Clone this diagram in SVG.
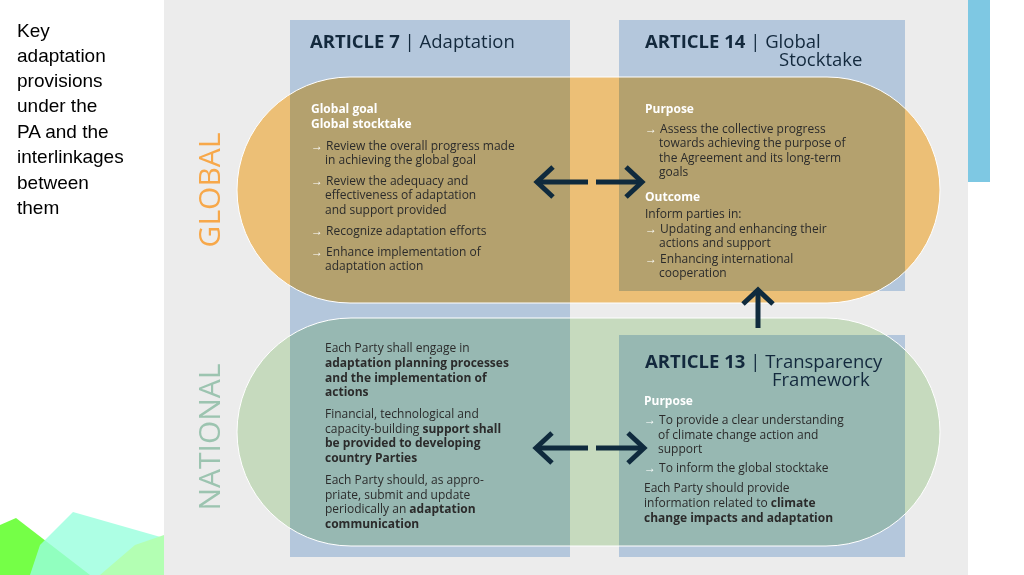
<svg xmlns="http://www.w3.org/2000/svg" width="1024" height="575" viewBox="0 0 1024 575">
<style>
.t{font-family:"Open Sans","Liberation Sans",sans-serif;font-size:12px;fill:#2b2b2b}
.b{font-weight:bold}
.w{fill:#ffffff;font-weight:bold}
.h{font-family:"Open Sans","Liberation Sans",sans-serif;font-size:18.5px;fill:#13293d}
.side{font-family:"Liberation Sans",sans-serif;font-size:19px;fill:#000}
</style>
<rect width="1024" height="575" fill="#ffffff"/>
<rect x="164" y="0" width="804" height="575" fill="#ececec"/>
<rect x="968" y="0" width="22" height="182" fill="#7ec8e3"/>
<g id="decor">
<polygon points="0,525 16,518 90,575 0,575" fill="#66ff33" opacity="0.9"/>
<polygon points="40,545 73,512 164,538 164,575 30,575" fill="#99ffdd" opacity="0.8"/>
<polygon points="100,575 135,545 164,535 164,575" fill="#b3ffb3"/>
</g>
<text class="side" x="17" y="37">Key</text>
<text class="side" x="17" y="62">adaptation</text>
<text class="side" x="17" y="87">provisions</text>
<text class="side" x="17" y="112">under the</text>
<text class="side" x="17" y="138">PA and the</text>
<text class="side" x="17" y="163">interlinkages</text>
<text class="side" x="17" y="189">between</text>
<text class="side" x="17" y="214">them</text>

<g id="columns">
<rect id="art7" x="290" y="20" width="280" height="537" fill="#b4c7dc"/>
<rect id="art14" x="619" y="20" width="286" height="271" fill="#b4c7dc"/>
<rect id="art13" x="619" y="335" width="286" height="222" fill="#b4c7dc"/>
</g>
<g id="pills">
<rect id="global" x="237" y="77" width="703" height="226" rx="113" fill="#ffcf80" style="mix-blend-mode:multiply"/>
<rect id="national" x="237" y="318" width="703" height="228" rx="114" fill="#d6ecce" style="mix-blend-mode:multiply"/>
<rect x="237" y="77" width="703" height="226" rx="113" fill="none" stroke="#ffffff" stroke-width="1"/>
<rect x="237" y="318" width="703" height="228" rx="114" fill="none" stroke="#ffffff" stroke-width="1"/>
</g>
<text x="220" y="190" transform="rotate(-90 220 190)" text-anchor="middle" font-family="'Open Sans','Liberation Sans',sans-serif" font-size="30" fill="#f7a84a">GLOBAL</text>
<text x="220" y="437" transform="rotate(-90 220 437)" text-anchor="middle" font-family="'Open Sans','Liberation Sans',sans-serif" font-size="30" fill="#9cc4b0">NATIONAL</text>

<g id="article7-text">
<text class="h" x="310" y="48"><tspan font-weight="bold">ARTICLE 7</tspan> | Adaptation</text>
<text class="t w" x="311" y="113">Global goal</text>
<text class="t w" x="311" y="128">Global stocktake</text>
<text class="t" x="311" y="150"><tspan fill="#fff">→</tspan> Review the overall progress made</text>
<text class="t" x="325" y="164">in achieving the global goal</text>
<text class="t" x="311" y="185"><tspan fill="#fff">→</tspan> Review the adequacy and</text>
<text class="t" x="325" y="199">effectiveness of adaptation</text>
<text class="t" x="325" y="214">and support provided</text>
<text class="t" x="311" y="235"><tspan fill="#fff">→</tspan> Recognize adaptation efforts</text>
<text class="t" x="311" y="256"><tspan fill="#fff">→</tspan> Enhance implementation of</text>
<text class="t" x="325" y="270">adaptation action</text>
</g>
<g id="article14-text">
<text class="h" x="645" y="48"><tspan font-weight="bold">ARTICLE 14</tspan> | Global</text>
<text class="h" x="779" y="66">Stocktake</text>
<text class="t w" x="645" y="113">Purpose</text>
<text class="t" x="645" y="133"><tspan fill="#fff">→</tspan> Assess the collective progress</text>
<text class="t" x="659" y="147">towards achieving the purpose of</text>
<text class="t" x="659" y="162">the Agreement and its long-term</text>
<text class="t" x="659" y="176">goals</text>
<text class="t w" x="645" y="201">Outcome</text>
<text class="t" x="645" y="218">Inform parties in:</text>
<text class="t" x="645" y="233"><tspan fill="#fff">→</tspan> Updating and enhancing their</text>
<text class="t" x="659" y="247">actions and support</text>
<text class="t" x="645" y="263"><tspan fill="#fff">→</tspan> Enhancing international</text>
<text class="t" x="659" y="277">cooperation</text>
</g>
<g id="national-text">
<text class="t" x="325" y="352">Each Party shall engage in</text>
<text class="t b" x="325" y="367">adaptation planning processes</text>
<text class="t b" x="325" y="382">and the implementation of</text>
<text class="t b" x="325" y="396">actions</text>
<text class="t" x="325" y="418">Financial, technological and</text>
<text class="t" x="325" y="433">capacity-building <tspan font-weight="bold">support shall</tspan></text>
<text class="t b" x="325" y="447">be provided to developing</text>
<text class="t b" x="325" y="462">country Parties</text>
<text class="t" x="325" y="484">Each Party should, as appro-</text>
<text class="t" x="325" y="499">priate, submit and update</text>
<text class="t" x="325" y="513">periodically an <tspan font-weight="bold">adaptation</tspan></text>
<text class="t b" x="325" y="528">communication</text>
</g>
<g id="article13-text">
<text class="h" x="645" y="368"><tspan font-weight="bold">ARTICLE 13</tspan> | Transparency</text>
<text class="h" x="772" y="386">Framework</text>
<text class="t w" x="644" y="405">Purpose</text>
<text class="t" x="644" y="424"><tspan fill="#fff">→</tspan> To provide a clear understanding</text>
<text class="t" x="658" y="439">of climate change action and</text>
<text class="t" x="658" y="453">support</text>
<text class="t" x="644" y="472"><tspan fill="#fff">→</tspan> To inform the global stocktake</text>
<text class="t" x="644" y="492">Each Party should provide</text>
<text class="t" x="644" y="507">information related to <tspan font-weight="bold">climate</tspan></text>
<text class="t b" x="644" y="522">change impacts and adaptation</text>
</g>
<g id="connectors" fill="none" stroke="#0f2a3d" stroke-width="5">
<path d="M537,182 H588 M596,182 H642"/>
<path d="M553,167 L537,182 L553,197 M626,167 L642,182 L626,197"/>
<path d="M536,448 H588 M596,448 H644"/>
<path d="M552,433 L536,448 L552,463 M628,433 L644,448 L628,463"/>
<path d="M758,328 V290"/>
<path d="M743,304 L758,290 L773,304"/>
</g>
</svg>
